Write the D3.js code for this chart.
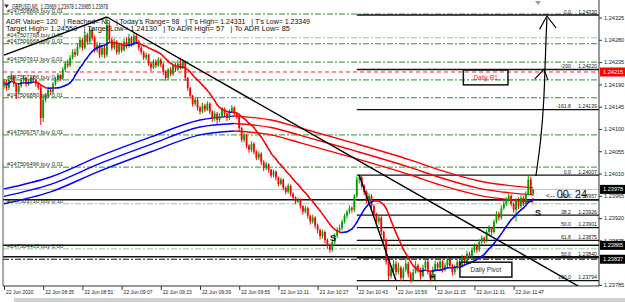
<!DOCTYPE html>
<html>
<head>
<meta charset="utf-8">
<script src="https://cdn.jsdelivr.net/npm/d3@7"></script>
<style>
  body { margin: 0; background: #fff; }
  svg { display: block; font-family: "Liberation Sans", Arial, sans-serif; }
  text { white-space: pre; }
</style>
</head>
<body>
<div id="chart"></div>
<script>
// GBPUSD M1, 22 Jun 2020 08:19 - 11:55

var firstOpen = 1.24187;
var closes = [1.24195,1.24183,1.24199,1.24207,1.24191,1.24175,1.24187,1.24199,1.24203,1.24191,
  1.24195,1.24203,1.24199,1.24191,1.24183,1.24122,1.24159,1.24168,1.24179,1.24175,
  1.24191,1.24199,1.24207,1.24203,1.24220,1.24232,1.24228,1.24244,1.24255,1.24250,
  1.24266,1.24280,1.24264,1.24290,1.24276,1.24300,1.24284,1.24259,1.24270,1.24250,
  1.24264,1.24250,1.24310,1.24280,1.24264,1.24276,1.24255,1.24270,1.24259,1.24276,
  1.24268,1.24284,1.24272,1.24288,1.24276,1.24264,1.24255,1.24244,1.24250,1.24232,
  1.24224,1.24236,1.24228,1.24240,1.24230,1.24215,1.24203,1.24220,1.24211,1.24228,
  1.24220,1.24232,1.24224,1.24236,1.24203,1.24183,1.24167,1.24151,1.24159,1.24143,
  1.24135,1.24147,1.24139,1.24151,1.24135,1.24122,1.24131,1.24118,1.24126,1.24139,
  1.24131,1.24122,1.24135,1.24143,1.24131,1.24126,1.24102,1.24078,1.24087,1.24066,
  1.24058,1.24070,1.24054,1.24042,1.24050,1.24033,1.24021,1.24029,1.24018,1.24006,
  1.24014,1.24002,1.23989,1.23998,1.23981,1.23973,1.23985,1.23969,1.23961,1.23953,
  1.23957,1.23944,1.23933,1.23940,1.23925,1.23913,1.23921,1.23905,1.23896,1.23884,
  1.23892,1.23876,1.23864,1.23856,1.23872,1.23884,1.23896,1.23900,1.23913,1.23925,
  1.23933,1.23940,1.23937,1.23965,1.23998,1.24002,1.23985,1.23973,1.23957,1.23965,
  1.23944,1.23929,1.23913,1.23921,1.23892,1.23876,1.23832,1.23803,1.23816,1.23828,
  1.23811,1.23820,1.23799,1.23816,1.23828,1.23807,1.23795,1.23811,1.23824,1.23816,
  1.23803,1.23820,1.23832,1.23811,1.23799,1.23816,1.23828,1.23820,1.23832,1.23816,
  1.23824,1.23836,1.23824,1.23811,1.23820,1.23832,1.23824,1.23840,1.23832,1.23848,
  1.23844,1.23856,1.23864,1.23856,1.23872,1.23880,1.23876,1.23892,1.23900,1.23892,
  1.23913,1.23929,1.23921,1.23940,1.23949,1.23957,1.23965,1.23949,1.23937,1.23957,
  1.23944,1.23961,1.23949,1.23969,1.23998,1.23969,1.23978];
var highs = [1.24201,1.24199,1.24203,1.24213,1.24209,1.24193,1.24191,1.24203,1.24209,1.24205,
  1.24201,1.24207,1.24207,1.24201,1.24195,1.24189,1.24168,1.24173,1.24185,1.24183,
  1.24195,1.24205,1.24213,1.24211,1.24225,1.24237,1.24240,1.24249,1.24261,1.24262,
  1.24272,1.24286,1.24284,1.24296,1.24294,1.24305,1.24303,1.24288,1.24276,1.24274,
  1.24269,1.24268,1.24326,1.24313,1.24284,1.24282,1.24279,1.24274,1.24274,1.24282,
  1.24284,1.24292,1.24288,1.24294,1.24292,1.24280,1.24268,1.24258,1.24254,1.24252,
  1.24235,1.24241,1.24240,1.24245,1.24243,1.24233,1.24219,1.24223,1.24225,1.24232,
  1.24233,1.24240,1.24244,1.24241,1.24238,1.24205,1.24185,1.24169,1.24164,1.24162,
  1.24146,1.24153,1.24151,1.24156,1.24154,1.24138,1.24136,1.24134,1.24132,1.24144,
  1.24143,1.24134,1.24140,1.24148,1.24146,1.24134,1.24128,1.24104,1.24092,1.24089,
  1.24069,1.24075,1.24073,1.24057,1.24055,1.24053,1.24037,1.24034,1.24031,1.24019,
  1.24018,1.24016,1.24004,1.24002,1.24000,1.23984,1.23990,1.23988,1.23972,1.23964,
  1.23962,1.23960,1.23946,1.23945,1.23943,1.23927,1.23927,1.23924,1.23909,1.23899,
  1.23897,1.23895,1.23879,1.23869,1.23877,1.23889,1.23901,1.23907,1.23917,1.23929,
  1.23936,1.23946,1.23944,1.23968,1.24004,1.24008,1.24006,1.23988,1.23976,1.23970,
  1.23968,1.23948,1.23931,1.23927,1.23924,1.23895,1.23879,1.23836,1.23824,1.23836,
  1.23834,1.23830,1.23824,1.23822,1.23840,1.23832,1.23812,1.23818,1.23834,1.23828,
  1.23820,1.23826,1.23840,1.23836,1.23814,1.23822,1.23834,1.23832,1.23838,1.23836,
  1.23830,1.23842,1.23840,1.23828,1.23826,1.23838,1.23836,1.23846,1.23844,1.23854,
  1.23852,1.23861,1.23869,1.23867,1.23877,1.23885,1.23883,1.23897,1.23906,1.23902,
  1.23917,1.23934,1.23933,1.23946,1.23956,1.23962,1.23970,1.23968,1.23952,1.23960,
  1.23962,1.23966,1.23964,1.23974,1.24008,1.24003,1.23978];
var lows = [1.24181,1.24177,1.24179,1.24195,1.24185,1.24160,1.24171,1.24183,1.24195,1.24185,
  1.24187,1.24191,1.24193,1.24185,1.24179,1.24108,1.24114,1.24154,1.24163,1.24169,
  1.24171,1.24187,1.24195,1.24197,1.24199,1.24215,1.24223,1.24225,1.24240,1.24245,
  1.24247,1.24262,1.24258,1.24260,1.24270,1.24272,1.24278,1.24254,1.24254,1.24243,
  1.24245,1.24243,1.24245,1.24274,1.24258,1.24260,1.24250,1.24250,1.24254,1.24256,
  1.24262,1.24264,1.24266,1.24268,1.24272,1.24258,1.24250,1.24239,1.24239,1.24227,
  1.24217,1.24221,1.24223,1.24225,1.24225,1.24209,1.24197,1.24199,1.24207,1.24207,
  1.24215,1.24217,1.24220,1.24221,1.24197,1.24177,1.24161,1.24145,1.24146,1.24137,
  1.24129,1.24132,1.24134,1.24136,1.24130,1.24114,1.24116,1.24110,1.24114,1.24122,
  1.24126,1.24116,1.24118,1.24132,1.24126,1.24120,1.24096,1.24073,1.24073,1.24061,
  1.24052,1.24053,1.24049,1.24037,1.24037,1.24027,1.24015,1.24017,1.24012,1.24001,
  1.24002,1.23996,1.23984,1.23986,1.23976,1.23968,1.23970,1.23964,1.23956,1.23948,
  1.23950,1.23939,1.23927,1.23929,1.23919,1.23907,1.23909,1.23899,1.23889,1.23877,
  1.23879,1.23869,1.23858,1.23850,1.23852,1.23867,1.23879,1.23891,1.23895,1.23909,
  1.23919,1.23929,1.23931,1.23932,1.23960,1.23990,1.23980,1.23966,1.23950,1.23952,
  1.23939,1.23923,1.23905,1.23907,1.23885,1.23869,1.23826,1.23795,1.23798,1.23810,
  1.23804,1.23806,1.23793,1.23795,1.23812,1.23800,1.23790,1.23792,1.23808,1.23810,
  1.23796,1.23800,1.23816,1.23806,1.23792,1.23796,1.23812,1.23814,1.23816,1.23810,
  1.23812,1.23820,1.23818,1.23804,1.23806,1.23816,1.23818,1.23820,1.23826,1.23828,
  1.23838,1.23840,1.23850,1.23850,1.23852,1.23867,1.23869,1.23871,1.23887,1.23885,
  1.23889,1.23909,1.23915,1.23917,1.23936,1.23944,1.23952,1.23944,1.23931,1.23913,
  1.23938,1.23940,1.23944,1.23946,1.23966,1.23968,1.23965];

var timeTickBars = [0, 16, 32, 48, 64, 80, 96, 112, 128, 144, 160, 176, 192, 208];
var timeLabels = ["22 Jun 2020", "22 Jun 08:35", "22 Jun 08:51", "22 Jun 09:07", "22 Jun 09:23",
  "22 Jun 09:39", "22 Jun 09:55", "22 Jun 10:11", "22 Jun 10:27", "22 Jun 10:43",
  "22 Jun 10:59", "22 Jun 11:15", "22 Jun 11:31", "22 Jun 11:47"];
// 1.23830 sits under the pivot price box, so it is not listed
var priceTicks = [1.23785, 1.23875, 1.23920, 1.23965, 1.24010, 1.24055,
  1.24100, 1.24145, 1.24190, 1.24235, 1.24280, 1.24325];

// slow MA band (three lines), sampled at these bars
var slowBars  = [0, 19, 39, 60, 80, 94, 109, 121, 141, 166, 178, 194, 216];
var slowUpper = [1.23979, 1.24003, 1.24045, 1.24084, 1.24118, 1.24126, 1.24118, 1.24102, 1.24074, 1.24037, 1.24017, 1.23995, 1.23981];
var slowMid   = [1.23964, 1.23988, 1.24030, 1.24069, 1.24104, 1.24111, 1.24103, 1.24087, 1.24059, 1.24022, 1.24002, 1.23980, 1.23967];
var slowLower = [1.23949, 1.23973, 1.24015, 1.24054, 1.24088, 1.24096, 1.24088, 1.24072, 1.24044, 1.24007, 1.23987, 1.23966, 1.23953];

// open orders
var orderPrices = [1.24332, 1.24284, 1.24272, 1.24235, 1.24199, 1.24163, 1.24088, 1.24023, 1.23949, 1.23858];
var orderLabels = ["#247508866 buy 0.01", "#247507768 buy 0.01", "#247506668 buy 0.01", "#247507611 buy 0.01",
  "#247507286 buy 0.01", "#247506880 buy 0.01", "#247506757 buy 0.01", "#247506496 buy 0.01",
  "#247503710 buy 0.10", "#247504403 buy 0.06"];

// fibonacci levels
var fibStartBar = 144;
var fibLevels = ["0.0", "-200", "-161.8", "0.0", "23.6", "38.2", "50.0", "61.8", "50.0", "100.0"];
var fibPrices = [1.24330, 1.24220, 1.24139, 1.24007, 1.23957, 1.23926, 1.23901, 1.23875, 1.23840, 1.23794];

var srPrices = [1.23957, 1.23865, 1.23842];
var r1Price = 1.24215, pivotPrice = 1.23837, bidPrice = 1.23978;
var markPrices = [1.24215, 1.23978, 1.23865, 1.23837];

var trendLines = [
  [[0, 1.24249], [42, 1.24326]],
  [[42, 1.24326], [235, 1.23781]],
  [[145, 1.24007], [160, 1.23794]]
];
var arrowCurve = [[217.1, 1.24005], [219.2, 1.24078], [220.4, 1.24158], [220.8, 1.24219], [221.2, 1.24280], [221.6, 1.24324]];
var arrowHeads = [
  [[218.6, 1.24301], [221.6, 1.24328], [225.3, 1.24304]],
  [[216.7, 1.24201], [220.4, 1.24221], [222.0, 1.24199]]
];
var letterMarks = [["S", 134.3, 1.23880], ["S", 218, 1.23932], ["H", 175, 1.23803]];

var W = 625, H = 302;
var x = d3.scaleLinear().domain([0, 216]).range([4, 533.2]);
var y = d3.scaleLinear().domain([1.23785, 1.24325]).range([285, 17.5]);

var svg = d3.select("#chart").append("svg").attr("width", W).attr("height", H);
svg.append("rect").attr("width", W).attr("height", H).attr("fill", "#fff");
svg.append("defs").append("clipPath").attr("id", "plot")
  .append("rect").attr("x", 3).attr("y", 2).attr("width", 596).attr("height", 284);
var plot = svg.append("g").attr("clip-path", "url(#plot)");

// order lines
var lightOrders = [1, 8, 9];
orderPrices.forEach(function(p, i) {
  plot.append("line").attr("x1", 3).attr("x2", 599).attr("y1", y(p)).attr("y2", y(p))
    .attr("stroke", lightOrders.indexOf(i) >= 0 ? "#8fcf8f" : "#2f8f2f")
    .attr("stroke-width", 1).attr("stroke-dasharray", "6,2,2,2");
});

// support / resistance
srPrices.forEach(function(p) {
  plot.append("line").attr("x1", 3).attr("x2", 599).attr("y1", y(p)).attr("y2", y(p))
    .attr("stroke", "#111").attr("stroke-width", 1.5);
});
plot.append("line").attr("x1", 3).attr("x2", 599).attr("y1", y(r1Price)).attr("y2", y(r1Price))
  .attr("stroke", "#ff2020").attr("stroke-dasharray", "4,3");
plot.append("line").attr("x1", 3).attr("x2", 599).attr("y1", y(pivotPrice)).attr("y2", y(pivotPrice))
  .attr("stroke", "#111").attr("stroke-dasharray", "6,2,2,2");
plot.append("line").attr("x1", 3).attr("x2", 599).attr("y1", y(bidPrice)).attr("y2", y(bidPrice))
  .attr("stroke", "#c0c0c0");

// fib lines
fibPrices.forEach(function(p) {
  plot.append("line").attr("x1", x(fibStartBar)).attr("x2", 599).attr("y1", y(p)).attr("y2", y(p))
    .attr("stroke", "#111").attr("stroke-width", 1.3);
});

// slow MA band: blue while rising, red while falling
var peak = d3.maxIndex(slowUpper);
var slowLine = d3.line().curve(d3.curveMonotoneX).x(function(d) { return x(d[0]); }).y(function(d) { return y(d[1]); });
[slowUpper, slowMid, slowLower].forEach(function(vals) {
  var pts = slowBars.map(function(b, i) { return [b, vals[i]]; });
  plot.append("path").attr("d", slowLine(pts.slice(0, peak + 1))).attr("fill", "none").attr("stroke", "#0000ff").attr("stroke-width", 1.4);
  plot.append("path").attr("d", slowLine(pts.slice(peak))).attr("fill", "none").attr("stroke", "#ff0000").attr("stroke-width", 1.4);
});

// candles
var opens = closes.map(function(c, i) { return i === 0 ? firstOpen : closes[i - 1]; });
var bars = closes.map(function(c, i) { return { i: i, o: opens[i], h: highs[i], l: lows[i], c: c }; });
var candle = plot.append("g").selectAll("g").data(bars).join("g");
candle.append("line")
  .attr("x1", function(d) { return x(d.i); }).attr("x2", function(d) { return x(d.i); })
  .attr("y1", function(d) { return y(d.h); }).attr("y2", function(d) { return y(d.l); })
  .attr("stroke", function(d) { return d.c >= d.o ? "#00a000" : "#ff0000"; }).attr("stroke-width", 1);
candle.append("rect")
  .attr("x", function(d) { return x(d.i) - 0.9; }).attr("width", 1.8)
  .attr("y", function(d) { return y(Math.max(d.o, d.c)); })
  .attr("height", function(d) { return Math.max(0.8, Math.abs(y(d.o) - y(d.c))); })
  .attr("fill", function(d) { return d.c >= d.o ? "#00a000" : "#ff0000"; });

// fast MA (SMA 14), coloured by slope
var ma = closes.map(function(c, i) { return d3.mean(closes.slice(Math.max(0, i - 13), i + 1)); });
for (var i = 1; i < ma.length; i++) {
  plot.append("line").attr("x1", x(i - 1)).attr("x2", x(i)).attr("y1", y(ma[i - 1])).attr("y2", y(ma[i]))
    .attr("stroke", ma[i] >= ma[i - 1] ? "#0000ff" : "#ff0000").attr("stroke-width", 1.5)
    .attr("stroke-linecap", "round");
}

// trend lines and hand-drawn arrow
var straight = d3.line().x(function(d) { return x(d[0]); }).y(function(d) { return y(d[1]); });
trendLines.forEach(function(t) {
  plot.append("path").attr("d", straight(t)).attr("stroke", "#000").attr("stroke-width", 1.4).attr("fill", "none");
});
plot.append("path").attr("d", d3.line().curve(d3.curveBasis).x(function(d) { return x(d[0]); }).y(function(d) { return y(d[1]); })(arrowCurve))
  .attr("stroke", "#000").attr("stroke-width", 1.2).attr("fill", "none");
arrowHeads.forEach(function(a) {
  plot.append("path").attr("d", straight(a)).attr("stroke", "#000").attr("stroke-width", 1.1).attr("fill", "none");
});

// fib labels
fibPrices.forEach(function(p, i) {
  svg.append("text").attr("x", 571).attr("y", y(p) - 1.5).attr("text-anchor", "end")
    .attr("font-size", 5.2).attr("fill", "#222").text(fibLevels[i]);
  svg.append("text").attr("x", 597).attr("y", y(p) - 1.5).attr("text-anchor", "end")
    .attr("font-size", 5.2).attr("fill", "#222").text(d3.format(".5f")(p));
});

// order labels
orderPrices.forEach(function(p, i) {
  svg.append("text").attr("x", 7).attr("y", y(p) - 1.2).attr("font-size", 5.8)
    .attr("fill", "#1d3a1d").text(orderLabels[i]);
});

// letter marks
letterMarks.forEach(function(m) {
  svg.append("text").attr("x", x(m[1])).attr("y", y(m[2]) + 3.5).attr("text-anchor", "middle")
    .attr("font-size", 9).attr("font-weight", "bold").attr("fill", "#111").text(m[0]);
});

// Daily R1 / Daily Pivot boxes
function labelBox(b0, b1, p0, p1, label, colour) {
  svg.append("rect").attr("x", x(b0)).attr("y", y(p0)).attr("width", x(b1) - x(b0)).attr("height", y(p1) - y(p0))
    .attr("fill", "none").attr("stroke", "#111").attr("stroke-width", 1.5);
  svg.append("text").attr("x", (x(b0) + x(b1)) / 2).attr("y", (y(p0) + y(p1)) / 2 + 2.3)
    .attr("text-anchor", "middle").attr("font-size", 6.5).attr("fill", colour).text(label);
}
labelBox(187.5, 205.7, 1.24219, 1.24189, "Daily R1", "#ff2020");
labelBox(186.1, 207.3, 1.23831, 1.23801, "Daily Pivot", "#333");

// bar countdown
var timer = svg.append("text").attr("x", 546).attr("y", 198).attr("fill", "#111");
timer.append("tspan").attr("font-size", 7).text("<-- ");
timer.append("tspan").attr("font-size", 11).text("00");
timer.append("tspan").attr("font-size", 7).text(" : ");
timer.append("tspan").attr("font-size", 11).text("24");

// frame and axes
svg.append("line").attr("x1", 3).attr("x2", 3).attr("y1", 0).attr("y2", 286).attr("stroke", "#555");
var yAxis = svg.append("g").attr("transform", "translate(599,0)")
  .call(d3.axisRight(y).tickValues(priceTicks).tickFormat(d3.format(".5f")).tickSize(3).tickSizeOuter(0));
yAxis.select(".domain").attr("stroke", "#333").attr("d", "M0,0V286");
yAxis.selectAll("text").attr("font-size", 5.6).attr("x", 5).attr("fill", "#222");
yAxis.selectAll("line").attr("stroke", "#333");

var xAxis = svg.append("g").attr("transform", "translate(0,286)")
  .call(d3.axisBottom(x).tickValues(timeTickBars).tickFormat(function(d, i) { return timeLabels[i]; }).tickSize(4).tickSizeOuter(0));
xAxis.select(".domain").attr("stroke", "#333").attr("d", "M3,0H599");
xAxis.selectAll("text").attr("font-size", 5).attr("text-anchor", "start").attr("dx", 1.5).attr("y", 4).attr("dy", "0.85em").attr("fill", "#222");
xAxis.selectAll("line").attr("stroke", "#333");

// price marks on the axis
var markFill = ["#ff0000", "#000", "#000", "#000"];
markPrices.forEach(function(p, i) {
  svg.append("rect").attr("x", 600).attr("y", y(p) - 4.5).attr("width", 25).attr("height", 9).attr("fill", markFill[i]);
  svg.append("text").attr("x", 603).attr("y", y(p) + 2).attr("font-size", 5.6).attr("fill", "#fff")
    .text(d3.format(".5f")(p));
});

// header
svg.append("path").attr("d", "M4,4.5L9,4.5L6.5,8Z").attr("fill", "#333");
svg.append("text").attr("x", 12).attr("y", 8.8).attr("font-size", 6.3).attr("fill", "#111")
  .attr("textLength", 96).attr("lengthAdjust", "spacingAndGlyphs")
  .text("GBPUSD,M1  1.23969 1.23978 1.23965 1.23978");
svg.append("text").attr("x", 6).attr("y", 24.3).attr("font-size", 6.4).attr("fill", "#111")
  .attr("textLength", 304).attr("lengthAdjust", "spacingAndGlyphs")
  .text("ADR Value= 120   | Reached= No   | Today's Range= 98   | T's High= 1.24331   | T's Low= 1.23349");
svg.append("text").attr("x", 6).attr("y", 31.2).attr("font-size", 6.4).attr("fill", "#111")
  .attr("textLength", 284).attr("lengthAdjust", "spacingAndGlyphs")
  .text("Target High= 1.24550   | Target Low= 1.24130   | To ADR High= 57   | To ADR Low= 85");
svg.append("path").attr("d", "M535,1L541,1L538,5Z").attr("fill", "#999");

// bottom strip
svg.append("rect").attr("x", 14).attr("y", 298).attr("width", 611).attr("height", 4).attr("fill", "#cfcfcf");
</script>
</body>
</html>
